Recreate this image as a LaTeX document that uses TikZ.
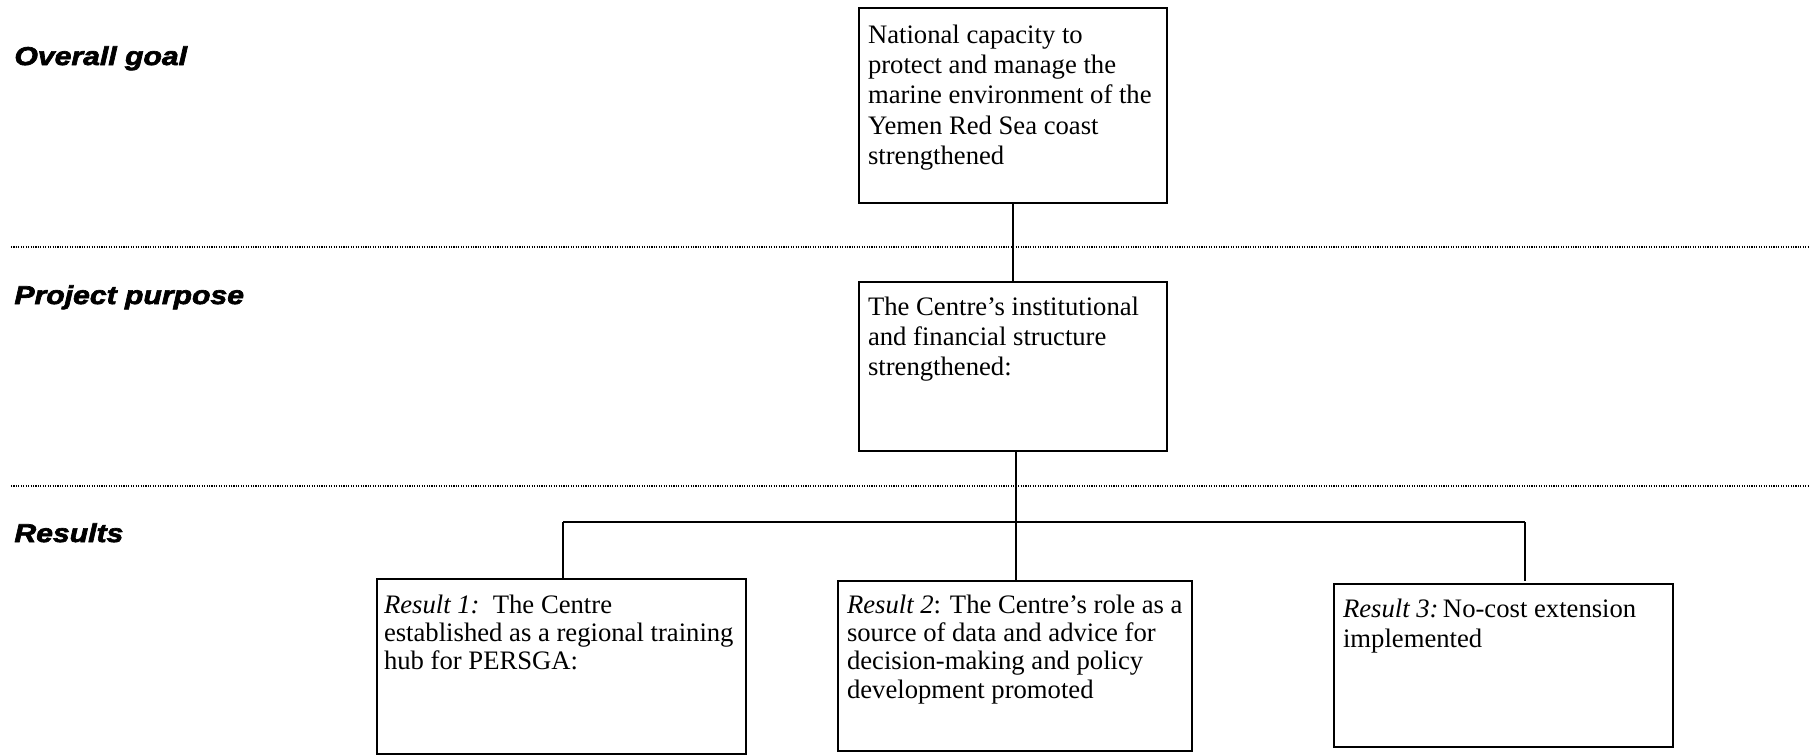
\documentclass[tikz,border=0pt]{standalone}
\usepackage{fontspec}
\setmainfont{Liberation Serif}
\newfontfamily\labelfont[FakeStretch=1.17, FakeBold=2.6]{Liberation Sans Bold Italic}
\usetikzlibrary{calc}
\tikzset{
  box/.style={draw, line width=0.9pt, rectangle, inner sep=0pt, outer sep=0pt},
  boxtext/.style={anchor=base west, inner sep=0pt, outer sep=0pt},
  rowlabel/.style={anchor=base west, inner sep=0pt, font=\labelfont\fontsize{11.6}{13}\selectfont},
  link/.style={line width=0.9pt},
  sep/.style={line width=0.5pt, dash pattern=on 0.5pt off 0.6pt}
}
\newcommand{\boxpar}[2]{\parbox[t]{220pt}{\raggedright\fontsize{12}{#1}\selectfont #2}}
\begin{document}
\begin{tikzpicture}[x=0.45pt, y=-0.45pt]
\useasboundingbox (0,0) rectangle (1810,755);

% row labels
\node[rowlabel] (lgoal) at (14,65) {Overall goal};
\node[rowlabel] (lpurpose) at (14,304) {Project purpose};
\node[rowlabel] (lresults) at (14,542) {Results};

% dotted separators
\coordinate (s1a) at (11,247);
\coordinate (s1b) at (1810,247);
\coordinate (s2a) at (11,486);
\coordinate (s2b) at (1810,486);
\draw[sep] (s1a) -- (s1b);
\draw[sep] (s2a) -- (s2b);

% boxes
\node[box, minimum width=138.6pt, minimum height=87.75pt] (goal) at (1013,105.5) {};
\node[box, minimum width=138.6pt, minimum height=76.05pt] (purpose) at (1013,366.5) {};
\node[box, minimum width=166.05pt, minimum height=78.75pt] (r1) at (561.5,666.5) {};
\node[box, minimum width=159.3pt, minimum height=76.5pt] (r2) at (1015,666) {};
\node[box, minimum width=152.55pt, minimum height=73.35pt] (r3) at (1503.5,665.5) {};

% texts
\node[boxtext] (tgoal) at (868,43) {\boxpar{13.7pt}{National capacity to\\protect and manage the\\marine environment of the\\Yemen Red Sea coast\\strengthened}};
\node[boxtext] (tpurpose) at (868,315) {\boxpar{13.6pt}{The Centre’s institutional\\and financial structure\\strengthened:}};
\node[boxtext] (tr1) at (384,613) {\boxpar{12.8pt}{\textit{Result 1:}\ \ The Centre\\established as a regional training\\hub for PERSGA:}};
\node[boxtext] (tr2) at (847,613) {\boxpar{12.8pt}{\textit{Result 2}: The Centre’s role as a\\source of data and advice for\\decision-making and policy\\development promoted}};
\node[boxtext] (tr3) at (1343,617) {\boxpar{13.5pt}{\textit{Result 3:}\,No-cost extension\\implemented}};

% connectors
\coordinate (j) at (1016,522);
\coordinate (bl) at (563,522);
\coordinate (br) at (1525,522);
\coordinate (rend) at (1525,581);
\draw[link] (goal.south) -- (purpose.north);
\draw[link] (j |- purpose.south) -- (j |- r2.north);
\draw[link] (bl) -- (br);
\draw[link] (bl) -- (bl |- r1.north);
\draw[link] (br) -- (rend);
\end{tikzpicture}
\end{document}
